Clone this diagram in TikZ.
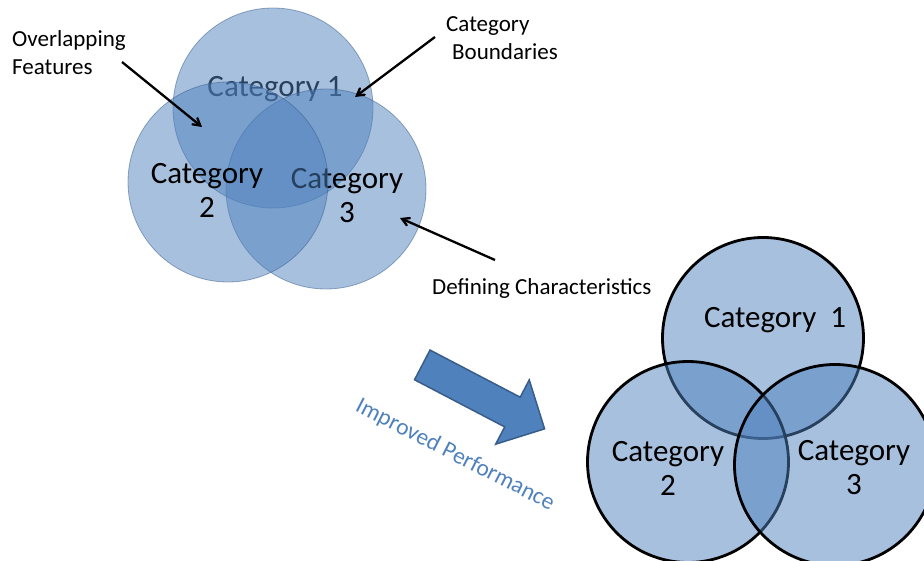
\documentclass[tikz,border=0pt]{standalone}
\usepackage{fontspec}
\setmainfont{Carlito}
\usepackage{tikz}
\usetikzlibrary{arrows}
\usetikzlibrary{shapes.arrows}

\definecolor{catblue}{RGB}{79,129,189}
\definecolor{catline}{RGB}{56,93,138}

\begin{document}
\begin{tikzpicture}[x=1pt,y=-1pt,>=angle 60,
	cat/.style={circle,minimum size=200pt,inner sep=0pt,fill=catblue,fill opacity=.5},
	softcat/.style={cat,draw=catline,draw opacity=.5,line width=.8pt},
	boldcat/.style={cat,draw=black,line width=2.8pt,minimum size=201pt},
	big/.style={font=\fontsize{31}{34}\selectfont,align=center,inner sep=0pt},
	note/.style={font=\fontsize{23}{28}\selectfont,align=left,inner sep=0pt,anchor=west}]
	\useasboundingbox (0,0) rectangle (924,561);

	% loose categories
	\node[big] (t1) at (275,89) {Category 1};
	\node[softcat] (a1) at (273,108) {};
	\node[softcat] (a3) at (326,189) {};
	\node[big] (t3) at (347,196) {Category\\3};
	\node[softcat] (a2) at (228,182) {};
	\node[big] (t2) at (207,190) {Category\\2};

	\node[note] (overlap) at (12,53) {Overlapping\\Features};
	\node[note] (bound) at (446,38) {Category\\\hspace*{6pt}Boundaries};
	\node[note] (define) at (432,288) {Defining Characteristics};

	\coordinate (overlaptail) at (122,62);
	\coordinate (overlaphead) at (202,127);
	\coordinate (boundtail) at (435,37);
	\coordinate (boundhead) at (355,97);
	\coordinate (definetail) at (495,260);
	\coordinate (definehead) at (400,218);
	\path[->,line width=2.3pt]
		(overlaptail) edge (overlaphead)
		(boundtail) edge (boundhead)
		(definetail) edge (definehead);

	% block arrow
	\node[single arrow,single arrow head extend=19.5pt,single arrow head indent=0pt,
		minimum height=138pt,inner xsep=0pt,inner ysep=16pt,
		fill=catblue,draw=catline,line width=1.5pt,rotate=-27.6] (improve) at (476,393) {};
	\node[font=\fontsize{23.5}{28}\selectfont,text=catblue,rotate=-27] (improvetext) at (455,455) {Improved Performance};

	% sharp categories
	\node[boldcat] (b1) at (763,338) {};
	\node[boldcat] (b2) at (688,462) {};
	\node[boldcat] (b3) at (835,465) {};
	\node[big] (s1) at (775,320) {Category\ \ 1};
	\node[big] (s2) at (668,468) {Category\\2};
	\node[big] (s3) at (854,468) {Category\\3};
\end{tikzpicture}
\end{document}
